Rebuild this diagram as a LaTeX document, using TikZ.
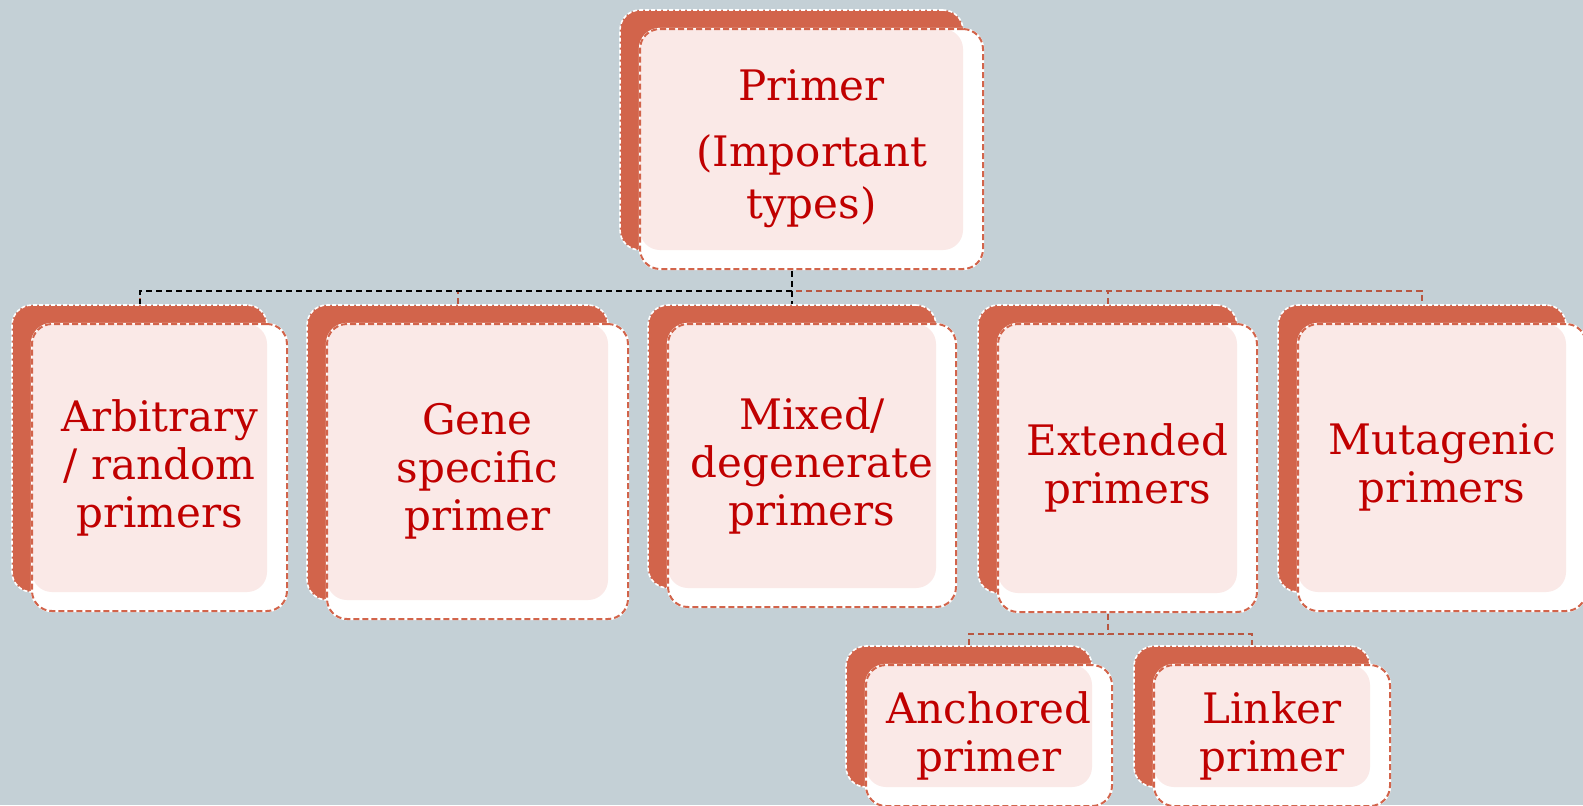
\documentclass[tikz,border=0pt]{standalone}
\usepackage{fontspec}
\setmainfont{DejaVu Serif}
\definecolor{bgc}{RGB}{196,208,214}
\definecolor{boxor}{RGB}{210,100,75}
\definecolor{connor}{RGB}{184,86,64}
\definecolor{txt}{RGB}{192,0,0}
\definecolor{pinkt}{RGB}{250,233,231}
\pgfdeclarelayer{bgl}\pgfdeclarelayer{conl}\pgfsetlayers{bgl,conl,main}
\tikzset{
  backbox/.style={rectangle, rounded corners=10pt, fill=boxor, draw=white,
    line width=0.8pt, dash pattern=on 2pt off 1pt, inner sep=0pt},
  frontbox/.style={rectangle, rounded corners=10pt, fill=white,
    preaction={draw=white, solid, line width=1.2pt},
    draw=boxor, line width=1pt, dash pattern=on 3pt off 1.5pt,
    path picture={\fill[pinkt, rounded corners=10pt] (path picture bounding box.north west) rectangle ([xshift=-10pt,yshift=9.5pt]path picture bounding box.south east);},
    text=txt, font=\fontsize{21}{24}\selectfont, align=center, inner sep=0pt},
  orconn/.style={draw=connor, line width=1pt, dash pattern=on 3pt off 2pt},
  blkconn/.style={draw=black, line width=1pt, dash pattern=on 3pt off 2pt}
}
\newcommand\pbox[6]{%
  \node[backbox, minimum width={(#4-#2)*0.5pt}, minimum height={(#5-#3)*0.5pt}] (#1b) at ({(#2+#4)/2},{(#3+#5)/2}) {};
  \node[frontbox, minimum width={(#4-#2)*0.5pt}, minimum height={(#5-#3)*0.5pt}] (#1) at ({(#2+#4)/2+20},{(#3+#5)/2+19}) {#6};
}
\begin{document}
\begin{tikzpicture}[x=0.5pt,y=-0.5pt]
\begin{pgfonlayer}{bgl}
\fill[bgc] (0,0) rectangle (1583,805);
\end{pgfonlayer}
\useasboundingbox (0,0) rectangle (1583,805);
\clip (0,0) rectangle (1583,805);
\pbox{top}{620}{10}{963}{250}{Primer\\[9pt](Important\\[2pt]types)}
\pbox{arb}{12}{305}{267}{592}{Arbitrary\\/ random\\primers}
\pbox{gene}{307}{305}{608}{600}{Gene\\specific\\primer}
\pbox{mix}{648}{305}{936}{588}{Mixed/\\degenerate\\primers}
\pbox{ext}{978}{305}{1237}{593}{Extended\\primers}
\pbox{mut}{1278}{305}{1566}{592}{Mutagenic\\primers}
\pbox{anc}{846}{646}{1092}{787}{Anchored\\primer}
\pbox{lnk}{1134}{646}{1370}{787}{Linker\\primer}
\coordinate (bus) at (0,291);
\coordinate (bus2) at (0,634);
\begin{pgfonlayer}{conl}
\draw[orconn] (arbb.north) -- (arbb.north |- bus) -| (mutb.north);
\draw[orconn] (geneb.north) -- (geneb.north |- bus);
\draw[orconn] (extb.north) -- (extb.north |- bus);
\draw[blkconn] (topb.south) -- (topb.south |- bus) -| (arbb.north);
\draw[blkconn] (topb.south |- bus) -- (topb.south |- mixb.north);
\draw[orconn] (extb.south) -- (extb.south |- bus2);
\draw[orconn] (ancb.north) -- (ancb.north |- bus2) -| (lnkb.north);
\end{pgfonlayer}
\end{tikzpicture}
\end{document}
